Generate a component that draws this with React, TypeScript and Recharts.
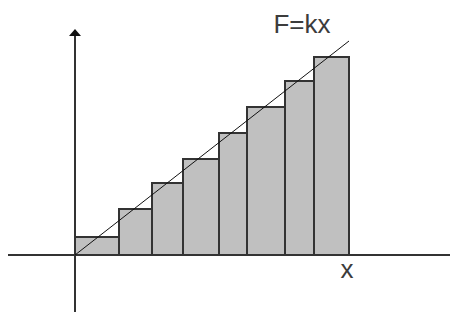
import { ComposedChart, Line, XAxis, YAxis, ReferenceArea, ReferenceLine, ReferenceDot } from 'recharts'

// step edges along x (0 = origin) and the height of each step
const stepEdges = [0, 44, 77, 108, 144, 172, 210, 239, 274]
const stepHeights = [18, 46, 72, 96, 122, 148, 174, 198]

// F = kx straight line
const lineData = [
  { x: 0, y: 0 },
  { x: 274, y: 214 }
]

const lineLabel = 'F=kx'
const axisLabel = 'x'

const ink = '#333'

export default function App() {
  const steps = stepHeights.map((h, i) => ({ x1: stepEdges[i], x2: stepEdges[i + 1], h }))

  return (
    <div style={{ position: 'absolute', left: 0, top: 0, background: '#fff' }}>
      <ComposedChart
        width={450}
        height={312}
        data={lineData}
        margin={{ top: 20, right: 0, bottom: 0, left: 8 }}
      >
        <XAxis dataKey="x" type="number" domain={[-67, 375]} hide allowDataOverflow />
        <YAxis type="number" domain={[-57, 235]} hide allowDataOverflow />

        {steps.map((s, i) => (
          <ReferenceArea
            key={i}
            x1={s.x1}
            x2={s.x2}
            y1={0}
            y2={s.h}
            fill="#c0c0c0"
            fillOpacity={1}
            stroke={ink}
            strokeWidth={2}
          />
        ))}

        {/* axes */}
        <ReferenceLine segment={[{ x: -67, y: 0 }, { x: 375, y: 0 }]} stroke={ink} strokeWidth={2} />
        <ReferenceLine segment={[{ x: 0, y: -57 }, { x: 0, y: 220 }]} stroke={ink} strokeWidth={2} />
        <ReferenceDot
          x={0}
          y={226}
          r={0}
          shape={(p: any) => (
            <polygon
              points={`${p.cx},${p.cy} ${p.cx - 6},${p.cy + 7} ${p.cx + 6},${p.cy + 7}`}
              fill="#111"
            />
          )}
        />

        <Line
          dataKey="y"
          stroke="#111"
          strokeWidth={1}
          dot={false}
          isAnimationActive={false}
        />

        <ReferenceDot
          x={227}
          y={222}
          r={0}
          shape={(p: any) => (
            <text x={p.cx} y={p.cy} textAnchor="middle" fontFamily="Liberation Sans" fontSize={26} fill="#3c3c3c">
              {lineLabel}
            </text>
          )}
        />
        <ReferenceDot
          x={272}
          y={-23}
          r={0}
          shape={(p: any) => (
            <text x={p.cx} y={p.cy} textAnchor="middle" fontFamily="Liberation Sans" fontSize={26} fill="#3c3c3c">
              {axisLabel}
            </text>
          )}
        />
      </ComposedChart>
    </div>
  )
}
